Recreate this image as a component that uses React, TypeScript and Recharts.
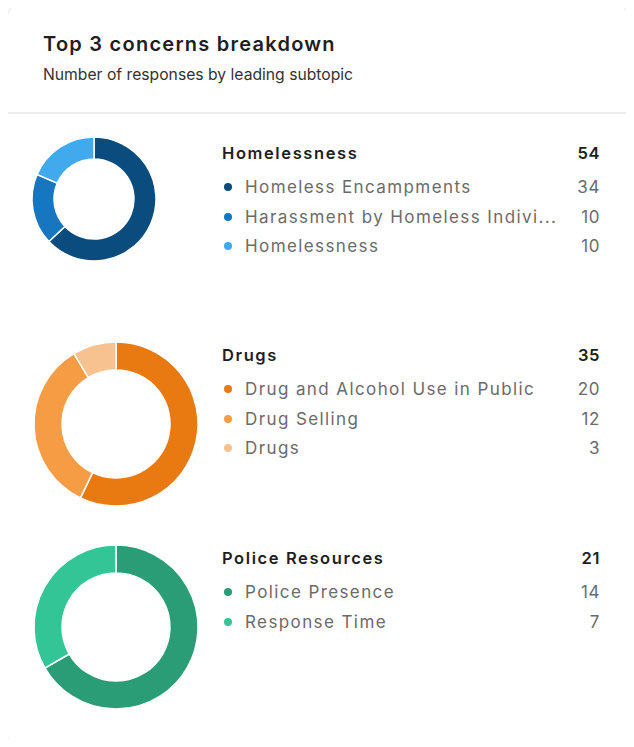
import { Cell, Pie, PieChart } from "recharts";

const HOMELESS_LABELS = ["Homeless Encampments", "Harassment by Homeless Individuals", "Homelessness"];
const HOMELESS_VALUES = [34, 10, 10];
const HOMELESS_COLORS = ["#0b4c7e", "#1677c0", "#41a9ee"];

const DRUG_LABELS = ["Drug and Alcohol Use in Public", "Drug Selling", "Drugs"];
const DRUG_VALUES = [20, 12, 3];
const DRUG_COLORS = ["#e97a12", "#f59c45", "#f7c190"];

const POLICE_LABELS = ["Police Presence", "Response Time"];
const POLICE_VALUES = [14, 7];
const POLICE_COLORS = ["#2a9d77", "#34c596"];

const FONT = "Inter, 'Noto Sans', sans-serif";
const MAX_LABEL = 30;

// long subtopic names get cut like the dashboard does
const clip = (s: string) => (s.length > MAX_LABEL ? s.slice(0, MAX_LABEL - 1) + "..." : s);

interface SectionProps {
  title: string;
  labels: string[];
  values: number[];
  colors: string[];
  cx: number;
  cy: number;
  outer: number;
  inner: number;
  titleY: number;
}

function Section({ title, labels, values, colors, cx, cy, outer, inner, titleY }: SectionProps) {
  const data = labels.map((label, i) => ({ label, value: values[i] }));
  const total = values.reduce((a, b) => a + b, 0);
  const size = outer * 2 + 10;
  return (
    <>
      <div style={{ position: "absolute", left: cx - size / 2, top: cy - size / 2 }}>
        <PieChart width={size} height={size} margin={{ top: 0, right: 0, bottom: 0, left: 0 }}>
          <Pie
            data={data}
            dataKey="value"
            nameKey="label"
            cx={size / 2}
            cy={size / 2}
            innerRadius={inner}
            outerRadius={outer}
            startAngle={90}
            endAngle={-270}
            stroke="#fff"
            strokeWidth={1.5}
            isAnimationActive={false}
          >
            {data.map((d, i) => (
              <Cell key={d.label} fill={colors[i]} />
            ))}
          </Pie>
        </PieChart>
      </div>
      <div
        style={{
          position: "absolute",
          left: 222,
          width: 378,
          top: titleY - 11,
          height: 22,
          lineHeight: "22px",
          display: "flex",
          justifyContent: "space-between",
          fontWeight: 600,
          fontSize: 16.5,
          letterSpacing: 1.6,
          color: "#1e1e1e",
        }}
      >
        <span>{title}</span>
        <span style={{ letterSpacing: 0.6 }}>{total}</span>
      </div>
      {data.map((d, i) => (
        <div
          key={d.label}
          style={{
            position: "absolute",
            left: 222,
            width: 378,
            top: titleY + 34 + i * 29.7 - 11,
            height: 22,
            lineHeight: "22px",
            display: "flex",
            alignItems: "center",
            fontSize: 17,
            letterSpacing: 1.4,
            color: "#6b6b6b",
          }}
        >
          <span
            style={{ width: 8, height: 8, borderRadius: 4, background: colors[i], marginLeft: 2, marginRight: 13, flexShrink: 0 }}
          />
          <span style={{ whiteSpace: "nowrap" }}>{clip(d.label)}</span>
          <span style={{ flex: 1, textAlign: "right", letterSpacing: 0.6 }}>{d.value}</span>
        </div>
      ))}
    </>
  );
}

export default function App() {
  return (
    <div style={{ position: "relative", width: 634, height: 747, margin: -8, fontFamily: FONT, background: "#fff" }}>
      <div
        style={{
          position: "absolute",
          left: 7,
          top: 4,
          width: 619,
          height: 741,
          border: "1px solid #e4e4e4",
          borderRadius: 12,
        }}
      />
      <div
        style={{ position: "absolute", left: 43, top: 32, fontSize: 20, fontWeight: 600, letterSpacing: 1.25, color: "#1e1e1e" }}
      >
        Top 3 concerns breakdown
      </div>
      <div style={{ position: "absolute", left: 43, top: 65, fontSize: 15.7, color: "#333" }}>
        Number of responses by leading subtopic
      </div>
      <div style={{ position: "absolute", left: 8, top: 112, width: 619, height: 2, background: "#ececec" }} />
      <Section
        title="Homelessness"
        labels={HOMELESS_LABELS}
        values={HOMELESS_VALUES}
        colors={HOMELESS_COLORS}
        cx={94}
        cy={199}
        outer={62}
        inner={40}
        titleY={153}
      />
      <Section
        title="Drugs"
        labels={DRUG_LABELS}
        values={DRUG_VALUES}
        colors={DRUG_COLORS}
        cx={116}
        cy={424}
        outer={82}
        inner={54}
        titleY={355}
      />
      <Section
        title="Police Resources"
        labels={POLICE_LABELS}
        values={POLICE_VALUES}
        colors={POLICE_COLORS}
        cx={116}
        cy={627}
        outer={82}
        inner={54}
        titleY={558}
      />
    </div>
  );
}
